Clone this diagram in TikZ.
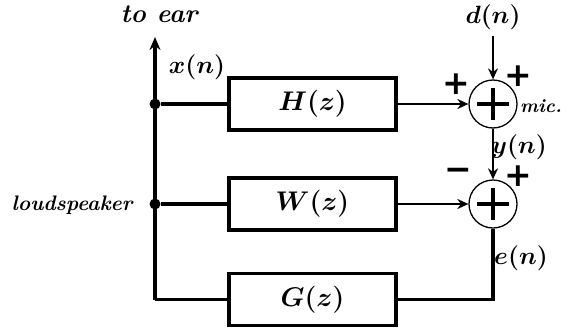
\RequirePackage{fix-cm}
\documentclass[tikz,border=0pt]{standalone}
\usepackage{bm}
\usepackage{fontspec}
\newfontfamily\signfont{DejaVu Sans}
\usetikzlibrary{arrows.meta}
\begin{document}
\begin{tikzpicture}[
    x=1pt, y=-1pt,
    block/.style={rectangle, draw, line width=3.6pt, minimum width=167pt, minimum height=52pt, font=\fontsize{27}{29}\selectfont},
    summer/.style={circle, draw, line width=1.3pt, minimum size=48pt, inner sep=0pt,
        path picture={\draw[line width=3.4pt] ([xshift=-16pt]path picture bounding box.center) -- ([xshift=16pt]path picture bounding box.center)
            ([yshift=-16pt]path picture bounding box.center) -- ([yshift=16pt]path picture bounding box.center);}},
    dot/.style={circle, fill, inner sep=0pt, minimum size=11pt},
    wire/.style={line width=3.4pt},
    sig/.style={line width=2.6pt, -{Stealth[length=11pt, width=10pt]}},
    lbl/.style={font=\fontsize{25}{27}\selectfont},
    sign/.style={font=\fontsize{33}{33}\signfont\bfseries},
]
\useasboundingbox (0,0) rectangle (569,332);
% blocks
\node[block] (H) at (312.5,104) {$\bm{H(z)}$};
\node[block] (W) at (312.5,204) {$\bm{W(z)}$};
\node[block] (G) at (312.5,299.5) {$\bm{G(z)}$};
% summing points
\node[summer] (s1) at (493,104) {};
\node[summer] (s2) at (493,204) {};
% junctions
\node[dot] (j1) at (155,104) {};
\node[dot] (j2) at (155,204) {};
\coordinate (corner) at (155,299.5);
\coordinate (ear) at (155,37);
\coordinate (dsrc) at (493,36);
% labels
\node[font=\fontsize{26}{28}\selectfont\bfseries\itshape] (toear) at (159,14) {to ear};
\node[lbl] (xn) at (197,67) {$\bm{x(n)}$};
\node[font=\fontsize{21}{23}\selectfont\bfseries\itshape] (ls) at (72,205) {loudspeaker};
\node[lbl] (dn) at (493,17) {$\bm{d(n)}$};
\node[lbl] (yn) at (519,147) {$\bm{y(n)}$};
\node[lbl] (en) at (521,258) {$\bm{e(n)}$};
\node[font=\fontsize{19}{21}\selectfont\bfseries\itshape] (mic) at (541,106) {mic.};
\node[sign] (p1) at (456,84) {+};
\node[sign] (p2) at (518,76) {+};
\node[sign] (m3) at (458,174) {−};
\node[sign] (p4) at (518,176) {+};
% connections
\draw[wire, -{Stealth[length=13pt, width=11pt]}] (corner) -- (ear);
\draw[wire] (j1) -- (H.west);
\draw[wire] (j2) -- (W.west);
\draw[wire] (corner) -- (G.west);
\draw[sig] (H.east) -- (s1.west);
\draw[sig] (W.east) -- (s2.west);
\draw[sig] (dsrc) -- (s1.north);
\draw[sig] (s1.south) -- (s2.north);
\draw[wire] (G.east) -| (s2.south);
\end{tikzpicture}
\end{document}
